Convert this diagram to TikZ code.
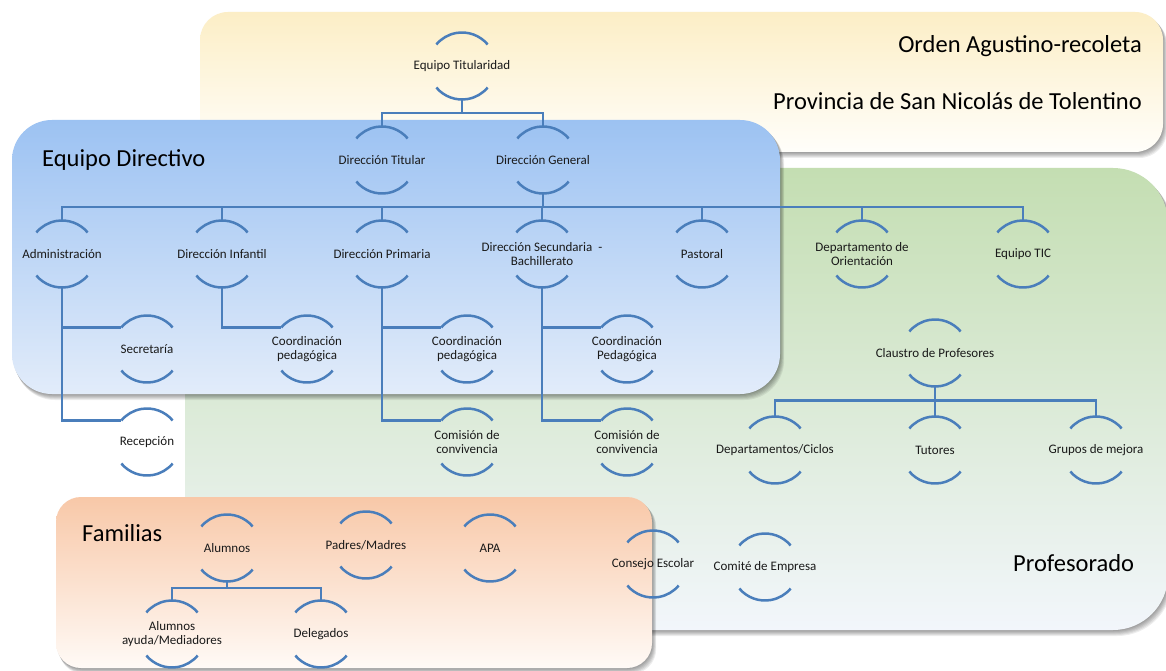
\documentclass[tikz,border=0pt]{standalone}
\usepackage{fontspec}
\setmainfont{Carlito}
\definecolor{linec}{HTML}{4A7EBB}
\definecolor{txt}{HTML}{1A1A1A}
\definecolor{ytop}{HTML}{FCEEC6}
\definecolor{ybot}{HTML}{FFFEFA}
\definecolor{btop}{HTML}{9CC2F2}
\definecolor{bbot}{HTML}{E2ECFA}
\definecolor{gtop}{HTML}{C4DEB2}
\definecolor{gbot}{HTML}{F2F6FB}
\definecolor{otop}{HTML}{F8C8A8}
\definecolor{obot}{HTML}{FFFAF6}
\newcommand\boxshadow[5]{%
  \foreach \i in {1,...,6}{%
    \fill[black,opacity=0.07,rounded corners=#5] (#1+\i*0.5,#2+\i*0.8) rectangle (#3+\i*0.7,#4+\i*1.0);}}
\begin{document}
\begin{tikzpicture}[x=1pt,y=-1pt,
  orgn/.style={rectangle, minimum width=67pt, minimum height=67pt, inner sep=0pt, outer sep=0pt,
    align=center, font=\fontsize{13}{14}\selectfont, text=txt},
  arcl/.style={draw=linec, line width=2.5pt},
  conn/.style={draw=linec, line width=2.5pt},
  title/.style={font=\fontsize{24.5}{26}\selectfont, text=black, inner sep=0pt}]
\useasboundingbox (0,0) rectangle (1166,671);
\fill[white] (0,0) rectangle (1166,671);
% Orden box
\boxshadow{200}{12}{1163}{152}{28pt}
\shade[top color=ytop, bottom color=ybot, rounded corners=28pt] (200,12) rectangle (1163,152);
% Profesorado box
\boxshadow{185}{168}{1168}{630}{55pt}
\shade[top color=gtop, bottom color=gbot, rounded corners=55pt] (185,168) rectangle (1168,630);
% Equipo directivo box
\boxshadow{12}{120}{780}{394}{40pt}
\shade[top color=btop, bottom color=bbot, rounded corners=40pt] (12,120) rectangle (780,394);
% Familias box
\boxshadow{56}{497}{652}{668}{25pt}
\shade[top color=otop, bottom color=obot, rounded corners=25pt] (56,497) rectangle (652,668);

% titles
\node[title, anchor=east] (tord) at (1142,46) {Orden Agustino-recoleta};
\node[title, anchor=east] (tprov) at (1142,101) {Provincia de San Nicolás de Tolentino};
\node[title, anchor=west] (tdir) at (42,160) {Equipo Directivo};
\node[title, anchor=west] (tfam) at (82,533) {Familias};
\node[title, anchor=west] (tprof) at (1013,563) {Profesorado};

% nodes
\node[orgn] (et) at (462,66) {Equipo Titularidad};
\node[orgn] (dt) at (382,160) {Dirección Titular};
\node[orgn] (dg) at (543,160) {Dirección General};
\node[orgn] (adm) at (62,254) {Administración};
\node[orgn] (dinf) at (222,254) {Dirección Infantil};
\node[orgn] (dpri) at (382,254) {Dirección Primaria};
\node[orgn] (dsec) at (542,254) {Dirección Secundaria~ -\\Bachillerato};
\node[orgn] (pas) at (702,254) {Pastoral};
\node[orgn] (dor) at (862,254) {Departamento de\\Orientación};
\node[orgn] (tic) at (1023,254) {Equipo TIC};
\node[orgn] (sec) at (147,349) {Secretaría};
\node[orgn] (cp1) at (307,349) {Coordinación\\pedagógica};
\node[orgn] (cp2) at (467,349) {Coordinación\\pedagógica};
\node[orgn] (cp3) at (627,349) {Coordinación\\Pedagógica};
\node[orgn] (rec) at (147,442) {Recepción};
\node[orgn] (cc1) at (467,442) {Comisión de\\convivencia};
\node[orgn] (cc2) at (627,442) {Comisión de\\convivencia};
\node[orgn] (cla) at (935,353) {Claustro de Profesores};
\node[orgn] (dep) at (775,450) {Departamentos/Ciclos};
\node[orgn] (tut) at (935,450) {Tutores};
\node[orgn] (gm) at (1096,450) {Grupos de mejora};
\node[orgn] (alu) at (227,548) {Alumnos};
\node[orgn] (aym) at (172,634) {Alumnos\\ayuda/Mediadores};
\node[orgn] (del) at (321,634) {Delegados};
\node[orgn] (pm) at (366,545) {Padres/Madres};
\node[orgn] (apa) at (490,548) {APA};
\node[orgn] (ce) at (653,564) {Consejo Escolar};
\node[orgn] (cde) at (765,567) {Comité de Empresa};

% arcs
\foreach \n in {et,dt,dg,adm,dinf,dpri,dsec,pas,dor,tic,sec,cp1,cp2,cp3,rec,cc1,cc2,cla,dep,tut,gm,alu,aym,del,pm,apa,ce,cde}{
  \draw[arcl] ([shift={(40:33.5pt)}]\n.center) arc[start angle=40,end angle=140,radius=33.5pt];
  \draw[arcl] ([shift={(220:33.5pt)}]\n.center) arc[start angle=220,end angle=320,radius=33.5pt];
}

% connectors
\draw[conn] (et.south) -- ++(0,13.5) coordinate (b1);
\draw[conn] (b1) -| (dt.north);
\draw[conn] (b1) -| (dg.north);
\draw[conn] (dg.south) -- ++(0,13.5) coordinate (b2);
\foreach \n in {adm,dinf,dpri,dsec,pas,dor,tic}{\draw[conn] (b2) -| (\n.north);}
\draw[conn] (adm.south) |- ([xshift=-25.66pt,yshift=21.53pt]sec.center);
\draw[conn] (adm.south) |- ([xshift=-25.66pt,yshift=21.53pt]rec.center);
\draw[conn] (dinf.south) |- ([xshift=-25.66pt,yshift=21.53pt]cp1.center);
\draw[conn] (dpri.south) |- ([xshift=-25.66pt,yshift=21.53pt]cp2.center);
\draw[conn] (dpri.south) |- ([xshift=-25.66pt,yshift=21.53pt]cc1.center);
\draw[conn] (dsec.south) |- ([xshift=-25.66pt,yshift=21.53pt]cp3.center);
\draw[conn] (dsec.south) |- ([xshift=-25.66pt,yshift=21.53pt]cc2.center);
\draw[conn] (cla.south) -- ++(0,14) coordinate (b3);
\foreach \n in {dep,tut,gm}{\draw[conn] (b3) -| (\n.north);}
\draw[conn] (alu.south) -- ++(0,6.5) coordinate (b4);
\foreach \n in {aym,del}{\draw[conn] (b4) -| (\n.north);}
\end{tikzpicture}
\end{document}
